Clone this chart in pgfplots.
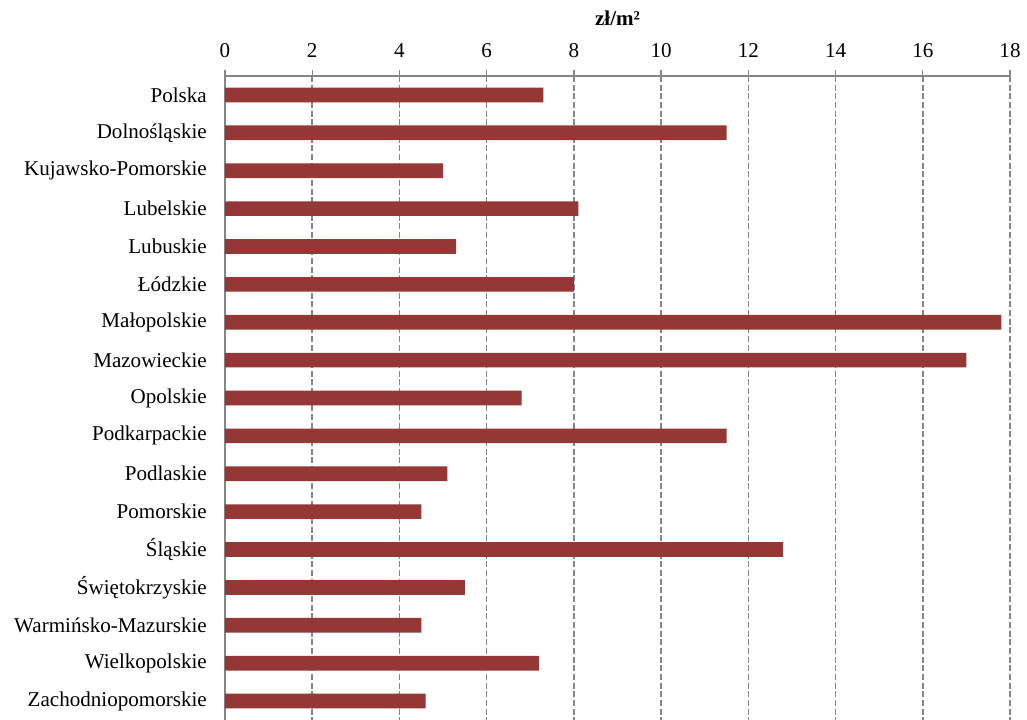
\documentclass[border=0pt]{standalone}
\usepackage{pgfplots}
\pgfplotsset{compat=1.18}
\usepackage{fontspec}
\setmainfont{Liberation Serif}
\definecolor{barred}{HTML}{953735}
\definecolor{axgray}{HTML}{868686}
\begin{document}
\fontsize{15.8}{19}\selectfont
\begin{tikzpicture}
\begin{axis}[
  at={(0,0)}, anchor=north west,
  scale only axis,
  width=588.75pt, height=483pt,
  xmin=0, xmax=18,
  ymin=-0.5, ymax=16.5,
  y dir=reverse,
  axis x line*=top,
  axis y line*=left,
  axis line style={axgray, line width=1pt},
  xtick={0,2,...,18},
  xtick align=center,
  major tick length=9pt,
  xtick style={axgray, line width=1pt},
  xticklabel style={yshift=4pt},
  xmajorgrids,
  major grid style={axgray, dash pattern=on 4.5pt off 2pt, line width=1.1pt},
  ytick={0,...,16},
  yticklabels={Polska,Dolnośląskie,Kujawsko-Pomorskie,Lubelskie,Lubuskie,Łódzkie,Małopolskie,Mazowieckie,Opolskie,Podkarpackie,Podlaskie,Pomorskie,Śląskie,Świętokrzyskie,Warmińsko-Mazurskie,Wielkopolskie,Zachodniopomorskie},
  ytick style={draw=none},
  minor ytick={-0.5,0.5,...,16.5},
  minor tick length=5pt,
  ytick align=outside,
  minor tick style={axgray, line width=1pt},
  yticklabel style={xshift=0.8pt},
  tick label style={font=\fontsize{15.8}{19}\selectfont},
  /pgf/number format/assume math mode=true,
  clip=false,
]
\addplot[xbar, bar width=11pt, fill=barred, draw=none] coordinates {
(7.3,0) (11.5,1) (5.0,2) (8.1,3) (5.3,4) (8.0,5) (17.8,6) (17.0,7) (6.8,8)
(11.5,9) (5.1,10) (4.5,11) (12.8,12) (5.5,13) (4.5,14) (7.2,15) (4.6,16)
};
\node[font=\fontsize{15.8}{19}\selectfont\bfseries] at (rel axis cs:0.5,1) [yshift=43.5pt] {zł/m²};
\end{axis}
\pgfresetboundingbox
\path[use as bounding box] (-168.75pt,-483pt) rectangle (601.5pt,57pt);
\end{tikzpicture}
\end{document}
